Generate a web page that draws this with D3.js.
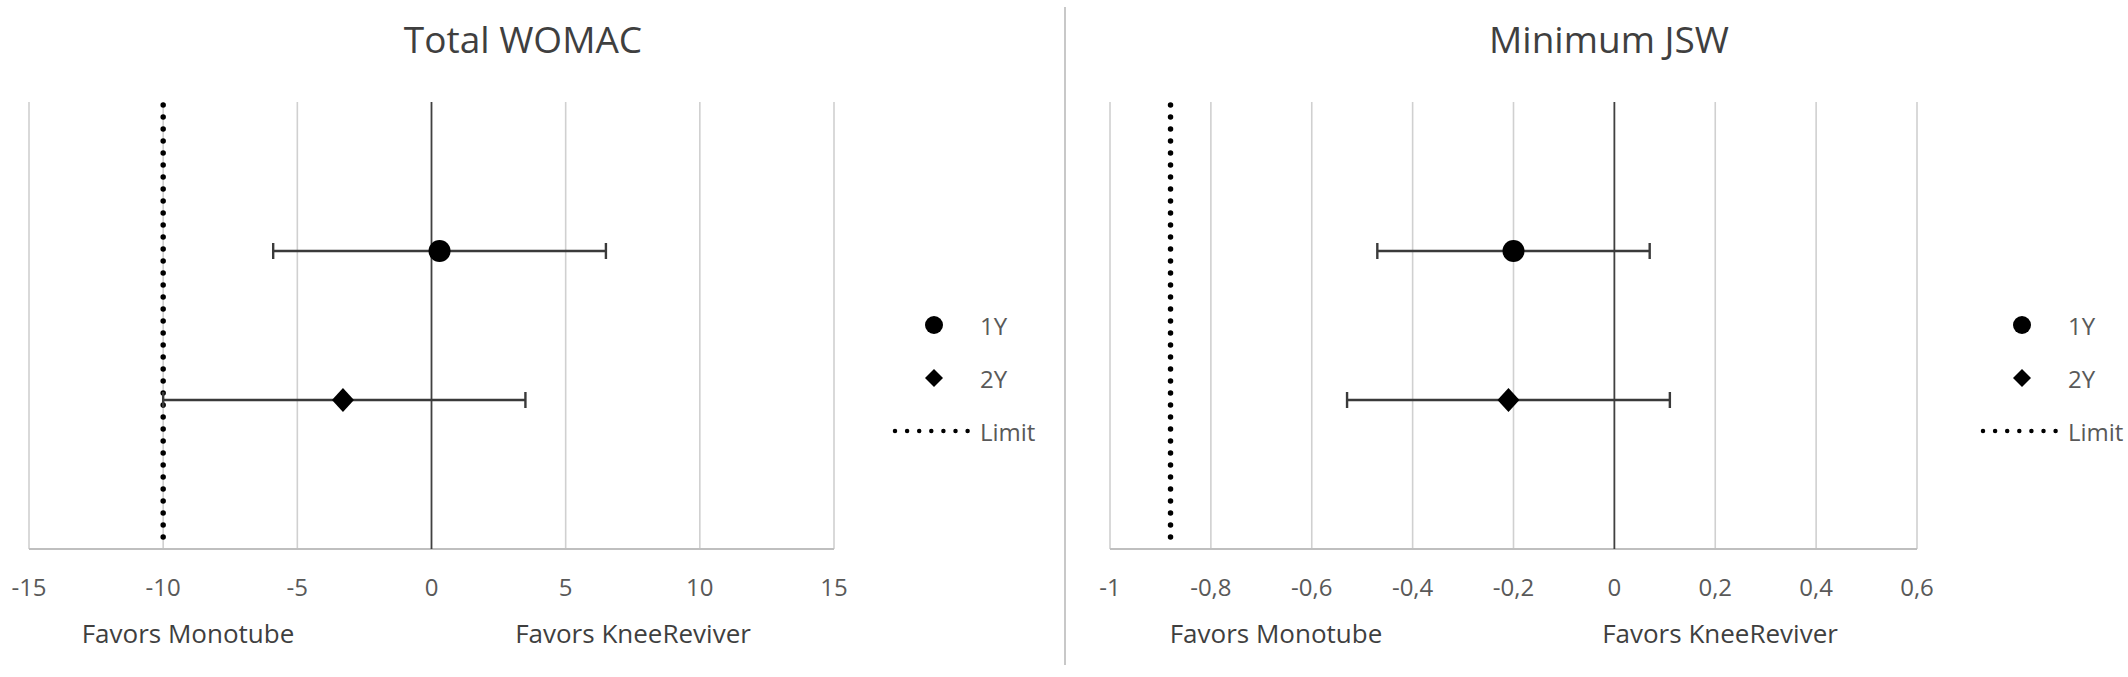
<!DOCTYPE html>
<meta charset="utf-8">
<style>
body { margin: 0; background: #fff; }
text { font-family: "Open Sans", sans-serif; fill: #595959; }
.title, .favors { fill: #3f3f3f; }
</style>
<svg width="2128" height="677"></svg>
<script src="https://d3js.org/d3.v7.min.js"></script>
<script>

// ---- data ----
var periods = ["1Y", "2Y"];
var rowValue = [2, 1];               // y value of each period in the scatter (axis 0..3)

var womacEst = [0.3, -3.3];
var womacLow = [-5.9, -10.0];
var womacHigh = [6.5, 3.5];
var womacLimit = -10;
var womacTicks = [-15, -10, -5, 0, 5, 10, 15];

var jswEst = [-0.2, -0.21];
var jswLow = [-0.47, -0.53];
var jswHigh = [0.07, 0.11];
var jswLimit = -0.88;
var jswTicks = [-1, -0.8, -0.6, -0.4, -0.2, 0, 0.2, 0.4, 0.6];

var favorsLabels = ["Favors Monotube", "Favors KneeReviver"];
var legendLabels = ["1Y", "2Y", "Limit"];

var svg = d3.select("svg");

svg.append("rect")
   .attr("width", "100%")
   .attr("height", "100%")
   .attr("fill", "#FFFFFF");

var plotTop = 102, plotBottom = 549;
var y = d3.scaleLinear().domain([0, 3]).range([plotBottom, plotTop]);

function fmt(d) { return String(d).replace(".", ","); }

function diamondPath(cx, cy, hw, hh) {
  return "M" + cx + "," + (cy - hh) + "L" + (cx + hw) + "," + cy +
         "L" + cx + "," + (cy + hh) + "L" + (cx - hw) + "," + cy + "Z";
}

function drawPanel(p) {
  var g = svg.append("g");
  var x = d3.scaleLinear().domain(d3.extent(p.ticks)).range(p.xRange);

  // title
  g.append("text")
   .attr("class", "title")
   .attr("x", p.titleX).attr("y", 38)
   .attr("text-anchor", "middle").attr("dominant-baseline", "central")
   .attr("font-size", "37px")
   .text(p.title);

  // vertical gridlines
  g.selectAll(".grid").data(p.ticks.filter(function(d) { return d !== 0; }))
   .enter().append("line")
   .attr("x1", function(d) { return x(d); }).attr("x2", function(d) { return x(d); })
   .attr("y1", plotTop).attr("y2", plotBottom)
   .attr("stroke", "#d0d0d0").attr("stroke-width", 1.6);

  // horizontal axis line
  g.append("line")
   .attr("x1", p.xRange[0]).attr("x2", p.xRange[1])
   .attr("y1", plotBottom).attr("y2", plotBottom)
   .attr("stroke", "#bfbfbf").attr("stroke-width", 2.2);

  // zero line
  g.append("line")
   .attr("x1", x(0)).attr("x2", x(0))
   .attr("y1", plotTop).attr("y2", plotBottom)
   .attr("stroke", "#404040").attr("stroke-width", 1.8);

  // tick labels
  g.selectAll(".tick").data(p.ticks).enter().append("text")
   .attr("x", function(d) { return x(d); }).attr("y", 586)
   .attr("text-anchor", "middle").attr("dominant-baseline", "central")
   .attr("font-size", "24px")
   .text(fmt);

  // favors labels
  g.selectAll(".fav").data(favorsLabels).enter().append("text")
   .attr("class", "favors")
   .attr("x", function(d, i) { return p.favorsX[i]; }).attr("y", 633)
   .attr("text-anchor", "middle").attr("dominant-baseline", "central")
   .attr("font-size", "26px")
   .text(function(d) { return d; });

  // limit line
  g.append("line")
   .attr("x1", x(p.limit)).attr("x2", x(p.limit))
   .attr("y1", plotTop + 3).attr("y2", plotBottom)
   .attr("stroke", "#000").attr("stroke-width", 5.5)
   .attr("stroke-linecap", "round").attr("stroke-dasharray", "0,12");

  // error bars
  var rows = periods.map(function(d, i) {
    return { name: d, yv: rowValue[i], est: p.est[i], lo: p.lo[i], hi: p.hi[i] };
  });
  var bars = g.selectAll(".bar").data(rows).enter().append("g");
  bars.append("line")
   .attr("x1", function(d) { return x(d.lo); }).attr("x2", function(d) { return x(d.hi); })
   .attr("y1", function(d) { return y(d.yv); }).attr("y2", function(d) { return y(d.yv); })
   .attr("stroke", "#3a3a3a").attr("stroke-width", 2.4);
  ["lo", "hi"].forEach(function(k) {
    bars.append("line")
     .attr("x1", function(d) { return x(d[k]); }).attr("x2", function(d) { return x(d[k]); })
     .attr("y1", function(d) { return y(d.yv) - 8; }).attr("y2", function(d) { return y(d.yv) + 8; })
     .attr("stroke", "#3a3a3a").attr("stroke-width", 2.4);
  });

  // markers
  bars.filter(function(d, i) { return i === 0; }).append("circle")
   .attr("cx", function(d) { return x(d.est); }).attr("cy", function(d) { return y(d.yv); })
   .attr("r", 11).attr("fill", "#000");
  bars.filter(function(d, i) { return i === 1; }).append("path")
   .attr("d", function(d) { return diamondPath(x(d.est), y(d.yv), 11, 12); })
   .attr("fill", "#000");

  // legend
  var lx = p.legendX, ly = [325, 378, 431];
  g.append("circle").attr("cx", lx).attr("cy", ly[0]).attr("r", 9).attr("fill", "#000");
  g.append("path").attr("d", diamondPath(lx, ly[1], 9, 9)).attr("fill", "#000");
  g.append("line")
   .attr("x1", lx - 39).attr("x2", lx + 34)
   .attr("y1", ly[2]).attr("y2", ly[2])
   .attr("stroke", "#000").attr("stroke-width", 4.5)
   .attr("stroke-linecap", "round").attr("stroke-dasharray", "0,12.1");
  g.selectAll(".leg").data(legendLabels).enter().append("text")
   .attr("x", lx + 46).attr("y", function(d, i) { return ly[i]; })
   .attr("dominant-baseline", "central")
   .attr("font-size", "24px")
   .text(function(d) { return d; });
}

drawPanel({
  title: "Total WOMAC", titleX: 523,
  ticks: womacTicks, xRange: [29, 834],
  est: womacEst, lo: womacLow, hi: womacHigh, limit: womacLimit,
  favorsX: [188, 633], legendX: 934
});

drawPanel({
  title: "Minimum JSW", titleX: 1609,
  ticks: jswTicks, xRange: [1110, 1917],
  est: jswEst, lo: jswLow, hi: jswHigh, limit: jswLimit,
  favorsX: [1276, 1720], legendX: 2022
});

// divider between the two charts
svg.append("line")
   .attr("x1", 1065).attr("x2", 1065)
   .attr("y1", 7).attr("y2", 665)
   .attr("stroke", "#c8c8c8").attr("stroke-width", 2);

</script>
